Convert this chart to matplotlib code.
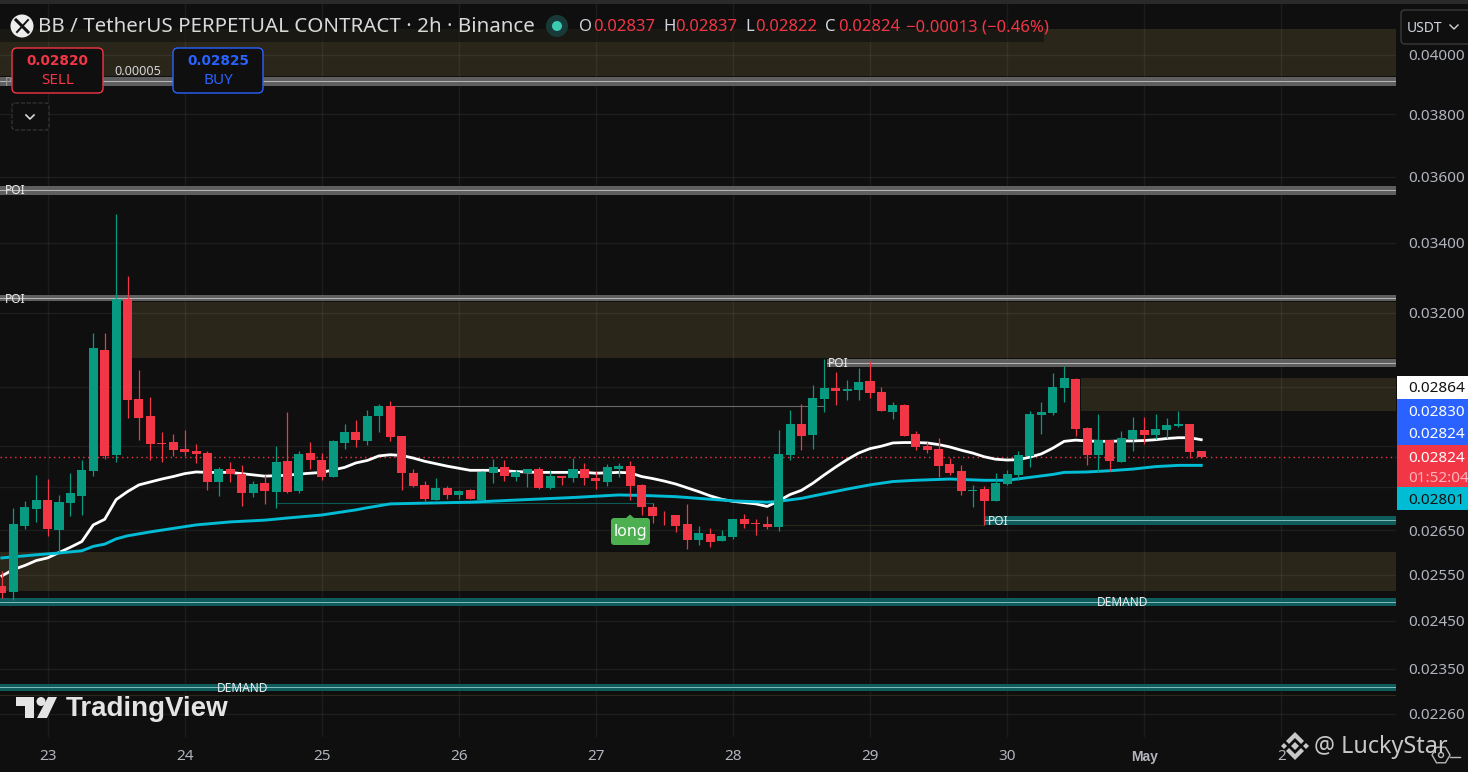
import numpy as np
import matplotlib
matplotlib.use("Agg")
import matplotlib.pyplot as plt
from matplotlib.patches import Rectangle, FancyBboxPatch, Circle, Polygon, RegularPolygon
from matplotlib.ticker import NullLocator

plt.rcParams['font.family'] = ['Noto Sans', 'DejaVu Sans']

# prices are in units of 0.00001
opens = [2525, 2512, 2660, 2700, 2721, 2651, 2714, 2730, 2790, 3098, 2829, 3238, 2970, 2926, 2858, 2861, 2844, 2839,
         2834, 2764, 2795, 2783, 2737, 2761, 2740, 2814, 2742, 2834, 2817, 2775, 2858, 2886, 2863, 2926, 2952, 2876,
         2785, 2756, 2721, 2749, 2733, 2744, 2721, 2785, 2800, 2775, 2785, 2795, 2749, 2778, 2773, 2795, 2773, 2764,
         2795, 2802, 2756, 2704, 2686, 2686, 2665, 2628, 2642, 2626, 2635, 2676, 2667, 2665, 2658, 2829, 2906, 2878,
         2970, 2998, 2990, 2993, 3016, 2988, 2936, 2954, 2881, 2851, 2844, 2807, 2790, 2742, 2747, 2718, 2758, 2780,
         2826, 2929, 2934, 2998, 3021, 2896, 2829, 2866, 2812, 2868, 2891, 2878, 2891, 2901, 2906, 2837]
highs = [2558, 2701, 2718, 2780, 2771, 2733, 2785, 2817, 3144, 3144, 3486, 3304, 3045, 2975, 2886, 2881, 2891, 2856,
         2839, 2800, 2812, 2805, 2766, 2780, 2851, 2936, 2839, 2861, 2834, 2866, 2906, 2916, 2941, 2957, 2964, 2876,
         2795, 2766, 2773, 2754, 2744, 2747, 2790, 2819, 2817, 2792, 2795, 2800, 2792, 2778, 2822, 2809, 2790, 2807,
         2809, 2814, 2758, 2714, 2695, 2686, 2711, 2660, 2656, 2651, 2676, 2688, 2676, 2683, 2891, 2941, 2957, 3006,
         3074, 3040, 3019, 3050, 3069, 3001, 2962, 2957, 2888, 2861, 2871, 2822, 2805, 2756, 2754, 2785, 2792, 2839,
         2939, 2962, 3037, 3056, 3024, 2898, 2931, 2866, 2888, 2923, 2923, 2931, 2921, 2939, 2906, 2837]
lows = [2498, 2495, 2653, 2669, 2637, 2601, 2683, 2686, 2778, 2819, 2812, 2921, 2866, 2817, 2812, 2826, 2826, 2809,
        2744, 2730, 2764, 2707, 2728, 2711, 2702, 2737, 2737, 2795, 2768, 2775, 2844, 2849, 2854, 2886, 2863, 2744,
        2751, 2718, 2721, 2723, 2723, 2723, 2721, 2761, 2766, 2766, 2751, 2747, 2747, 2756, 2764, 2756, 2747, 2754,
        2775, 2721, 2686, 2667, 2662, 2646, 2608, 2617, 2612, 2626, 2630, 2656, 2640, 2653, 2649, 2817, 2841, 2844,
        2936, 2954, 2967, 2967, 2972, 2939, 2919, 2876, 2841, 2834, 2775, 2780, 2733, 2704, 2662, 2718, 2756, 2768,
        2800, 2881, 2929, 2962, 2876, 2805, 2787, 2790, 2812, 2839, 2856, 2868, 2871, 2898, 2822, 2822]
closes = [2509, 2665, 2704, 2721, 2653, 2716, 2737, 2792, 3104, 2826, 3238, 2967, 2921, 2856, 2856, 2841, 2836, 2831,
          2764, 2795, 2783, 2737, 2758, 2742, 2812, 2740, 2831, 2817, 2775, 2863, 2886, 2866, 2926, 2952, 2873, 2785,
          2754, 2723, 2749, 2733, 2742, 2723, 2787, 2800, 2778, 2787, 2795, 2749, 2778, 2773, 2795, 2773, 2766, 2800,
          2802, 2754, 2704, 2683, 2684, 2660, 2628, 2644, 2624, 2637, 2676, 2665, 2665, 2658, 2831, 2906, 2876, 2972,
          2998, 2990, 2995, 3014, 2985, 2939, 2954, 2876, 2849, 2841, 2802, 2785, 2742, 2744, 2718, 2761, 2783, 2829,
          2931, 2936, 3001, 3024, 2893, 2829, 2866, 2814, 2871, 2891, 2878, 2893, 2903, 2906, 2836, 2824]

ema_fast = [2547, 2561, 2570, 2581, 2587, 2599, 2611, 2624, 2662, 2675, 2721, 2740, 2756, 2763, 2770, 2776, 2783, 2787,
            2786, 2786, 2786, 2783, 2780, 2777, 2778, 2779, 2782, 2784, 2786, 2792, 2798, 2809, 2815, 2826, 2829, 2827,
            2821, 2813, 2807, 2801, 2796, 2791, 2791, 2791, 2790, 2788, 2787, 2786, 2786, 2786, 2786, 2786, 2784, 2785,
            2786, 2785, 2776, 2771, 2765, 2758, 2749, 2740, 2730, 2722, 2717, 2714, 2711, 2705, 2718, 2733, 2743, 2760,
            2780, 2799, 2817, 2833, 2844, 2850, 2858, 2859, 2859, 2858, 2854, 2848, 2840, 2833, 2824, 2818, 2816, 2817,
            2823, 2831, 2845, 2862, 2865, 2863, 2862, 2862, 2863, 2863, 2864, 2866, 2869, 2871, 2871, 2866]
ema_slow_bars = [0, 3, 5, 7, 8, 9, 10, 11, 13, 15, 17, 20, 23, 25, 28, 31, 32, 34, 41, 45, 50, 54, 56, 59, 62, 64, 67,
                 68, 70, 72, 74, 76, 78, 80, 83, 86, 88, 90, 92, 93, 95, 97, 99, 101, 103, 105]
ema_slow = [2587, 2594, 2598, 2603, 2613, 2618, 2630, 2637, 2646, 2654, 2662, 2669, 2673, 2678, 2685, 2697, 2702, 2711,
            2715, 2720, 2726, 2732, 2731, 2728, 2722, 2718, 2715, 2717, 2724, 2735, 2746, 2756, 2764, 2767, 2770, 2767,
            2767, 2774, 2781, 2786, 2787, 2790, 2794, 2800, 2803, 2803]

# start bar, top price, bottom price
tan_zones = [(-1, 4092, 3929), (11.4, 3230, 3077), (94.5, 3024, 2939), (-1, 2601, 2514)]
grey_bands = [(-1, 3925, 3895), (-1, 3572, 3544), (-1, 3250, 3233), (72.2, 3074, 3053)]
teal_bands = [(86, 2683, 2662), (-1, 2499, 2482), (-1, 2320, 2306)]

tick_prices = [4000, 3800, 3600, 3400, 3200, 3000, 2850, 2750, 2650, 2550, 2450, 2350, 2260]
hidden_ticks = [3000, 2850, 2750]
day_bars = [4, 16, 28, 40, 52, 64, 76, 88, 100, 112]
day_labels = ['23', '24', '25', '26', '27', '28', '29', '30', 'May', '2']

BG = '#0f0f0f'
RED = '#f23645'
GREEN = '#089981'
CYAN = '#00bcd4'
BLUE = '#2962ff'
GREY = '#b2b5be'
W, H = 1468, 772
scale = 1e-5

opens, highs, lows, closes = [np.array(a) * scale for a in (opens, highs, lows, closes)]
bars = np.arange(len(opens))
up = closes >= opens
cols = np.where(up, GREEN, RED)

fig = plt.figure(figsize=(W / 100, H / 100), dpi=100, facecolor=BG)
ax = fig.add_axes([0, (H - 737) / H, 1396 / W, 737 / H], facecolor=BG)
ax.set_yscale('log')
ax.set_xlim(-0.165, 122.05)
ax.set_ylim(0.04 * np.exp(-(737 - 55) / 1154), 0.04 * np.exp(55 / 1154))
right_bar = 122.05

ax.set_yticks([p * scale for p in tick_prices])
ax.set_yticklabels(['' if p in hidden_ticks else '%.5f' % (p * scale) for p in tick_prices])
ax.yaxis.set_minor_locator(NullLocator())
ax.yaxis.tick_right()
ax.set_xticks(day_bars)
ax.set_xticklabels(day_labels)
ax.tick_params(axis='both', length=0, colors=GREY, labelsize=11)
ax.tick_params(axis='y', pad=8.5)
ax.tick_params(axis='x', pad=9)
may = ax.get_xticklabels()[8]
may.set_fontfamily('Liberation Sans')
may.set_fontweight('bold')
may.set_fontsize(10)
ax.grid(True, color='white', alpha=0.06, lw=1)
ax.set_axisbelow(True)
for s in ax.spines.values():
    s.set_visible(False)

for start, top, bot in tan_zones:
    ax.fill_between([start, right_bar], bot * scale, top * scale, color='#2a2619', lw=0, zorder=0.4)
for start, top, bot in grey_bands:
    ax.fill_between([start, right_bar], bot * scale, top * scale, color='#5f5f5f', lw=0, zorder=1.5)
    ax.plot([start, right_bar], [np.sqrt(top * bot) * scale] * 2, color='#b4b4b4', lw=0.75, zorder=1.6)
for start, top, bot in teal_bands:
    ax.fill_between([start, right_bar], bot * scale, top * scale, color='#0e5c5c', lw=0, zorder=1.5)
    ax.plot([start, right_bar], [np.sqrt(top * bot) * scale] * 2, color='#7fb8b8', lw=0.75, zorder=1.6)

# thin structure lines
ax.plot([34, 72], [2952 * scale] * 2, color='#6a6a6a', lw=0.8, zorder=1.7)
ax.plot([24, 57], [2714 * scale] * 2, color='#0c5a55', lw=0.8, zorder=1.7)
ax.plot([68, 86], [2662 * scale] * 2, color='#2b2a1a', lw=0.8, zorder=1.7)
ax.plot([-1, right_bar], [2298 * scale] * 2, color='#2b2a1a', lw=0.8, zorder=1.7)

ax.axhline(closes[-1], color=RED, ls=(0, (1, 2.5)), lw=1, zorder=2)

ax.plot(bars, np.array(ema_fast) * scale, color='white', lw=2, zorder=3, solid_joinstyle='round')
ax.plot(ema_slow_bars, np.array(ema_slow) * scale, color=CYAN, lw=2.1, zorder=3, solid_joinstyle='round')

ax.vlines(bars, lows, highs, colors=cols, lw=0.9, zorder=4)
ax.bar(bars, np.abs(closes - opens), bottom=np.minimum(opens, closes), width=0.79, color=cols, lw=0, zorder=5)

# everything below sits on a pixel overlay
ov = fig.add_axes([0, 0, 1, 1], facecolor='none')
ov.set_xlim(0, W)
ov.set_ylim(H, 0)
ov.axis('off')

ov.add_patch(Rectangle((0, 0), W, 4, color='#2a2a2a', lw=0))
ov.add_patch(Rectangle((0, 29), 1044, 13, color=BG, alpha=0.6, lw=0))


def poi(x, y, s):
    ov.text(x, y + 1.5, s, color='#ececec', fontsize=8.6, va='center', ha='left')


poi(5, 189, 'POI')
poi(5, 298, 'POI')
poi(828, 362, 'POI')
poi(988, 520, 'POI')
poi(1097, 601, 'DEMAND')
poi(217, 687, 'DEMAND')
ov.text(5, 82, 'P', color='#9a9a9a', fontsize=8.6, va='center')

# long tag
ov.add_patch(FancyBboxPatch((613, 520), 35, 23, boxstyle='round,pad=2,rounding_size=3', color='#4caf50', lw=0))
ov.add_patch(Polygon([(626, 518), (630, 514.5), (634, 518)], color='#4caf50', lw=0))
ov.text(630, 532, 'long', color='white', fontsize=11.5, ha='center', va='center')

# header
ov.add_patch(Circle((22, 26), 11.5, color='#ededed', lw=0))
ov.plot([16, 28], [20, 32], color='#111111', lw=2.2)
ov.plot([17, 28], [32, 20], color='#111111', lw=1.4)
ov.text(38, 27.5, 'BB / TetherUS PERPETUAL CONTRACT · 2h · Binance', color='#d8d8d8', fontsize=14.8, va='center')
ov.add_patch(Circle((557, 26), 11, color='#173a38', lw=0))
ov.add_patch(Circle((557, 26), 5, color='#3bc9b0', lw=0))
for x, xval, lab, val in [(579, 593, 'O', '0.02837'), (663, 675, 'H', '0.02837'),
                          (745, 755, 'L', '0.02822'), (825, 838, 'C', '0.02824')]:
    ov.text(x, 27, lab, color='#d1d4dc', fontsize=12, va='center')
    ov.text(xval, 27, val, color=RED, fontsize=12, va='center')
ov.text(906, 27, '−0.00013 (−0.46%)', color=RED, fontsize=12, va='center')

# sell / buy
for x, w, col, price, lab in [(12, 91, RED, '0.02820', 'SELL'), (173, 90, BLUE, '0.02825', 'BUY')]:
    ov.add_patch(FancyBboxPatch((x + 3, 51), w - 6, 39, boxstyle='round,pad=3,rounding_size=5', fc=BG, ec=col, lw=1))
    ov.text(x + w / 2, 61, price, color=col, fontsize=9.8, fontweight='bold', family='DejaVu Sans',
            ha='center', va='center')
    ov.text(x + w / 2, 81, lab, color=col, fontsize=11, ha='center', va='center')
ov.text(138, 71.5, '0.00005', color='#d1d4dc', fontsize=9.1, ha='center', va='center')
ov.add_patch(FancyBboxPatch((14, 105), 33, 23, boxstyle='round,pad=2,rounding_size=3', fc=BG, ec='#3a3a3a', lw=0.8, ls='--'))
ov.plot([26, 30, 34], [115, 119, 115], color='#d8d8d8', lw=1.2)

# currency button
ov.add_patch(FancyBboxPatch((1404, 13), 70, 28, boxstyle='round,pad=3,rounding_size=4', fc=BG, ec='#3a3a3a', lw=1, zorder=4))
ov.text(1407, 28, 'USDT', color='#d1d4dc', fontsize=10, va='center', zorder=5)
ov.plot([1450, 1454, 1458], [25, 29, 25], color='#d1d4dc', lw=1, zorder=5)

# price labels
for y0, y1, col in [(376, 399, 'white'), (399, 445, BLUE), (445, 487, RED), (487, 510, CYAN)]:
    ov.add_patch(Rectangle((1397, y0), W - 1397, y1 - y0, color=col, lw=0, zorder=5))
for y, s, col in [(389, '0.02864', '#111111'), (412, '0.02830', 'white'), (435, '0.02824', 'white'),
                  (458, '0.02824', 'white'), (478, '01:52:04', '#ffb3ba'), (501, '0.02801', '#111111')]:
    ov.text(1408, y, s, color=col, fontsize=11, va='center', zorder=6, clip_on=True)

# TradingView mark
ov.add_patch(Polygon([(16, 697), (34, 697), (34, 718), (25, 718), (25, 706), (16, 706)], color='#e4e4e4', lw=0))
ov.add_patch(Circle((41, 701.5), 4.5, color='#e4e4e4', lw=0))
ov.add_patch(Polygon([(48, 697), (57, 697), (47, 718), (37, 718)], color='#e4e4e4', lw=0))
ov.text(66, 709, 'TradingView', color='#e4e4e4', fontsize=20, fontweight='bold', family='Liberation Sans', va='center')

# watermark
wm = '#c8c8c8'
ov.add_patch(Polygon([(1295, 732), (1304, 741), (1301, 744), (1295, 738), (1289, 744), (1286, 741)], color=wm, lw=0))
ov.add_patch(Polygon([(1295, 760), (1304, 751), (1301, 748), (1295, 754), (1289, 748), (1286, 751)], color=wm, lw=0))
ov.add_patch(Polygon([(1295, 742), (1299, 746), (1295, 750), (1291, 746)], color=wm, lw=0))
ov.add_patch(Polygon([(1284, 743), (1287, 746), (1284, 749), (1281, 746)], color=wm, lw=0))
ov.add_patch(Polygon([(1306, 743), (1309, 746), (1306, 749), (1303, 746)], color=wm, lw=0))
ov.text(1314, 747, '@ LuckyStar', color=wm, fontsize=16.8, va='center')
ov.add_patch(RegularPolygon((1441, 755), 6, radius=9, orientation=np.pi / 2, fill=False, ec='#b8b8b8', lw=1))
ov.add_patch(Circle((1441, 755), 2.5, fill=False, ec='#b8b8b8', lw=1))
ov.plot([1450, 1460], [757, 757], color='#b8b8b8', lw=1)

fig.savefig('out.png', dpi=100, facecolor=BG)
